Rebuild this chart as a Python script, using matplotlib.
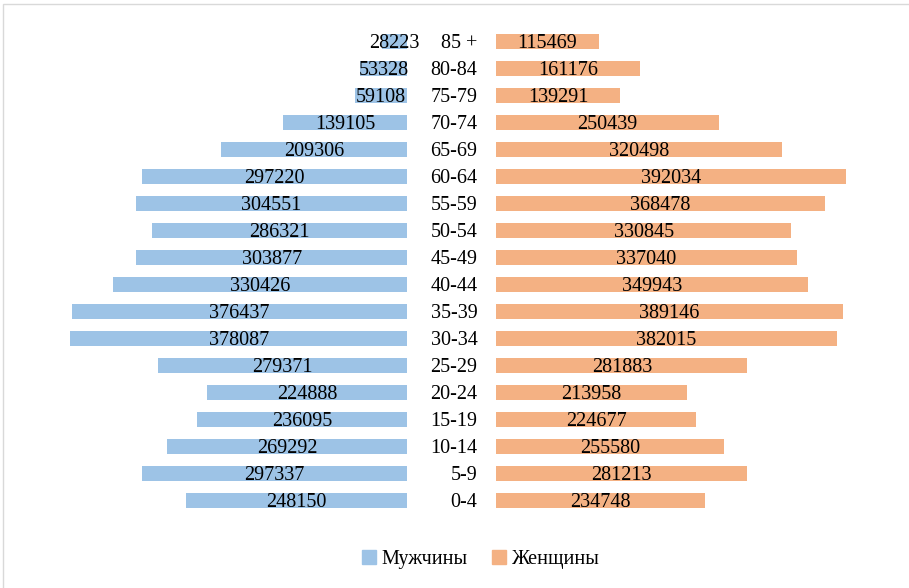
import matplotlib
matplotlib.use("Agg")
import matplotlib.pyplot as plt
from matplotlib.patches import Rectangle, Patch

plt.rcParams['font.family'] = ['Liberation Serif', 'DejaVu Serif']

# age groups from bottom to top
ages = ["0-4", "5-9", "10-14", "15-19", "20-24", "25-29", "30-34", "35-39",
        "40-44", "45-49", "50-54", "55-59", "60-64", "65-69", "70-74",
        "75-79", "80-84", "85 +"]
men = [248150, 297337, 269292, 236095, 224888, 279371, 378087, 376437,
       330426, 303877, 286321, 304551, 297220, 209306, 139105,
       59108, 53328, 28223]
women = [234748, 281213, 255580, 224677, 213958, 281883, 382015, 389146,
         349943, 337040, 330845, 368478, 392034, 320498, 250439,
         139291, 161176, 115469]

blue = "#9DC3E6"
orange = "#F4B183"
gap = 49700  # half of the empty middle column, in data units

fig = plt.figure(figsize=(9.09, 5.88), dpi=100)
ax = fig.add_axes([0, 0, 1, 1])

y = list(range(len(ages)))
ax.barh(y, [-m for m in men], left=-gap, height=0.57, color=blue)
ax.barh(y, women, left=gap, height=0.57, color=orange)

for i in y:
    ax.text(-gap - men[i] / 2, i, str(men[i]), ha='center', va='center_baseline', fontsize=14.5)
    ax.text(gap + women[i] / 2, i, str(women[i]), ha='center', va='center_baseline', fontsize=14.5)
    ax.text(28900, i, ages[i], ha='right', va='center_baseline', fontsize=14.5)

ax.set_xlim(-506360, 512630)
ax.set_ylim(-3.248, 18.53)
ax.axis('off')

handles = [Patch(color=blue, label="Мужчины"), Patch(color=orange, label="Женщины")]
fig.legend(handles=handles, loc='center', bbox_to_anchor=(0.529, 0.048), ncol=2,
           frameon=False, fontsize=14.5, handlelength=0.7, handleheight=0.7,
           handletextpad=0.3, columnspacing=1.2)

# light frame of the chart area (only top and left are visible in the crop)
fig.patches.append(Rectangle((3 / 909, -0.1), 1.2, 1 - 4 / 588 + 0.1,
                             transform=fig.transFigure, fill=False,
                             edgecolor="#D9D9D9", linewidth=1))

fig.savefig("out.png", dpi=100)
